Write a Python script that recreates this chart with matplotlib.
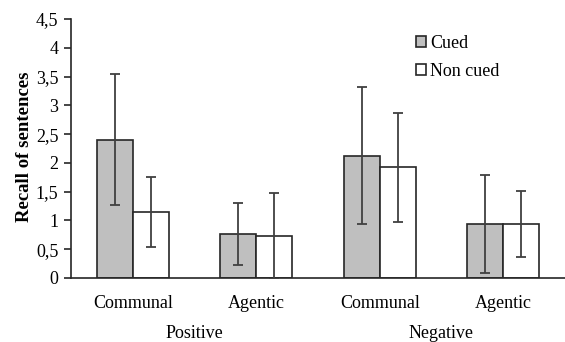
import numpy as np
import matplotlib
matplotlib.use("Agg")
import matplotlib.pyplot as plt

plt.rcParams['font.family'] = ['Liberation Serif', 'DejaVu Serif']

# Data
categories = ['Communal', 'Agentic', 'Communal', 'Agentic']
groups = ['Positive', 'Negative']
series = ['Cued', 'Non cued']
cued_mean = [2.40, 0.76, 2.12, 0.94]
cued_err = [1.14, 0.54, 1.19, 0.85]
noncued_mean = [1.14, 0.73, 1.92, 0.94]
noncued_err = [0.61, 0.75, 0.94, 0.58]
yticks = [0, 0.5, 1, 1.5, 2, 2.5, 3, 3.5, 4, 4.5]

FS = 13
BAR_W = 0.29
EDGE = '#262626'
ERR = '#404040'

fig = plt.figure(figsize=(5.65, 3.42), dpi=100)
ax = fig.add_axes([71 / 565, 1 - 278 / 342, 1 - 71 / 565, (278 - 19) / 342])

x = np.arange(len(categories))
ax.bar(x - BAR_W / 2, cued_mean, BAR_W, color='#bfbfbf', edgecolor=EDGE,
       linewidth=1.2, label=series[0], zorder=2)
ax.bar(x + BAR_W / 2, noncued_mean, BAR_W, color='white', edgecolor=EDGE,
       linewidth=1.2, label=series[1], zorder=2)
ax.errorbar(x - BAR_W / 2, cued_mean, yerr=cued_err, fmt='none', ecolor=ERR,
            elinewidth=1.3, capsize=3.5, capthick=1.3, zorder=3)
ax.errorbar(x + BAR_W / 2, noncued_mean, yerr=noncued_err, fmt='none', ecolor=ERR,
            elinewidth=1.3, capsize=3.5, capthick=1.3, zorder=3)

ax.set_xlim(-0.5, 3.5)
ax.set_ylim(0, 4.5)
ax.set_yticks(yticks)
ax.set_yticklabels([f'{v:g}'.replace('.', ',') for v in yticks], fontsize=FS)
ax.set_xticks(x)
ax.set_xticklabels(categories, fontsize=FS)
ax.tick_params(axis='x', length=0, pad=12)
ax.tick_params(axis='y', length=5, width=1.2, color=EDGE, direction='out', pad=4)

for side in ['top', 'right']:
    ax.spines[side].set_visible(False)
for side in ['left', 'bottom']:
    ax.spines[side].set_color(EDGE)
    ax.spines[side].set_linewidth(1.2)

# Group labels under the category labels
for i, g in enumerate(groups):
    ax.text(2 * i + 0.5, -0.215, g, transform=ax.get_xaxis_transform(),
            ha='center', va='center', fontsize=FS)

ax.set_ylabel('Recall of sentences', fontsize=13.5, fontweight='bold')
ax.yaxis.set_label_coords(-0.077, 0.506)

ax.legend(loc='upper left', bbox_to_anchor=(0.68, 0.975), frameon=False,
          fontsize=FS, handlelength=0.55, handleheight=0.55, handletextpad=0.25,
          labelspacing=0.65, borderpad=0)

fig.savefig('out.png', dpi=100)
